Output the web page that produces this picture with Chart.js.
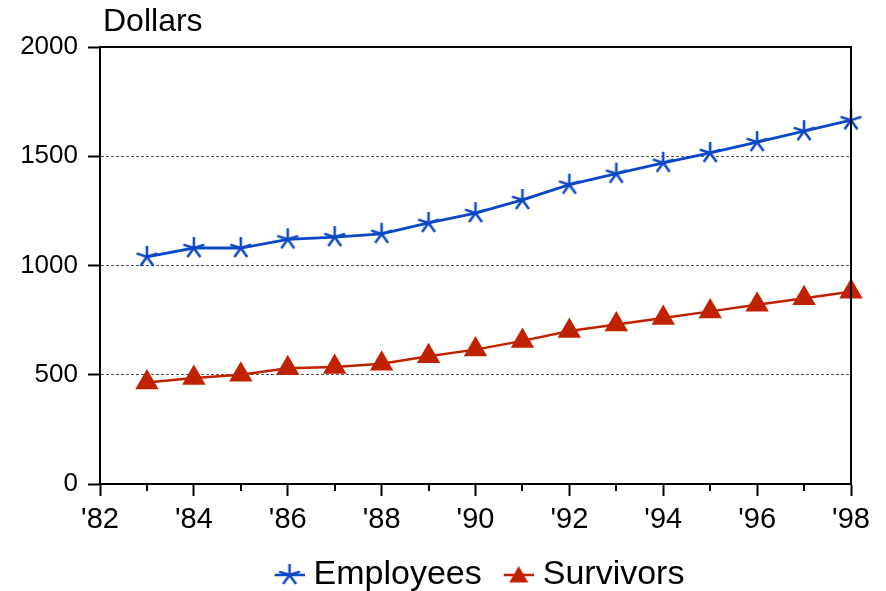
<!DOCTYPE html>
<html>
<head>
<meta charset="utf-8">
<script src="https://cdn.jsdelivr.net/npm/chart.js@4/dist/chart.umd.min.js"></script>
<style>
  html, body { margin: 0; padding: 0; background: #fff; }
  #wrap { width: 886px; height: 591px; }
</style>
</head>
<body>
<div id="wrap"><canvas id="myChart" width="886" height="591"></canvas></div>
<script>
// values
var years = [1983, 1984, 1985, 1986, 1987, 1988, 1989, 1990, 1991, 1992, 1993, 1994, 1995, 1996, 1997, 1998];
var employees = [1040, 1080, 1080, 1120, 1130, 1145, 1195, 1240, 1300, 1370, 1420, 1470, 1515, 1565, 1615, 1665];
var survivors = [465, 485, 500, 530, 535, 550, 585, 615, 655, 700, 730, 760, 790, 820, 850, 880];
var yTicks = [0, 500, 1000, 1500, 2000];

var blue = "#0b48c6";
var red = "#c02200";
var font = "Liberation Sans, Arial, Helvetica, sans-serif";

function drawStar(ctx, cx, cy, r) {
  ctx.strokeStyle = blue;
  ctx.lineWidth = 2.5;
  ctx.beginPath();
  for (var k = 0; k < 5; k++) {
    var a = (90 - 72 * k) * Math.PI / 180;
    ctx.moveTo(cx, cy);
    ctx.lineTo(cx + r * Math.cos(a), cy - r * Math.sin(a));
  }
  ctx.stroke();
}

function drawTri(ctx, cx, cy, r) {
  ctx.fillStyle = red;
  ctx.beginPath();
  ctx.moveTo(cx, cy - r);
  ctx.lineTo(cx + r * 0.866, cy + r * 0.5);
  ctx.lineTo(cx - r * 0.866, cy + r * 0.5);
  ctx.closePath();
  ctx.fill();
}

// point marker for employees
var starImg = document.createElement("canvas");
starImg.width = 26; starImg.height = 26;
drawStar(starImg.getContext("2d"), 13, 13, 11);

// legend symbols: line + marker, drawn in the right part of the image
function legendImg(kind) {
  var c = document.createElement("canvas");
  c.width = 46; c.height = 28;
  var g = c.getContext("2d");
  g.strokeStyle = kind == "star" ? blue : red;
  g.lineWidth = 2.5;
  g.beginPath();
  g.moveTo(16, 14); g.lineTo(46, 14);
  g.stroke();
  if (kind == "star") drawStar(g, 31, 14, 11);
  else drawTri(g, 31, 16, 11);
  return c;
}
var legStar = legendImg("star");
var legTri = legendImg("tri");

var framePlugin = {
  id: "frame",
  afterLayout: function (chart) {
    // centre the legend under the plot area, not the canvas
    var lg = chart.legend, a = chart.chartArea;
    var shift = (a.left + a.right) / 2 - (lg.left + lg.right) / 2;
    lg.left += shift; lg.right += shift;
  },
  afterDraw: function (chart) {
    var ctx = chart.ctx, a = chart.chartArea, xs = chart.scales.x;
    ctx.save();
    ctx.strokeStyle = "#000";
    ctx.lineWidth = 2;
    ctx.beginPath();
    ctx.moveTo(a.left, a.top); ctx.lineTo(a.right, a.top); ctx.lineTo(a.right, a.bottom);
    ctx.stroke();
    // minor ticks on odd years
    ctx.beginPath();
    for (var v = 1983; v < 1998; v += 2) {
      var px = Math.round(xs.getPixelForValue(v));
      ctx.moveTo(px, a.bottom); ctx.lineTo(px, a.bottom + 7);
    }
    ctx.stroke();
    ctx.fillStyle = "#000";
    ctx.font = "32px " + font;
    ctx.textBaseline = "middle";
    ctx.textAlign = "left";
    ctx.fillText("Dollars", a.left + 3, 22);
    ctx.restore();
  }
};

var canvas = document.getElementById("myChart");
var myChart = new Chart(canvas, {
  type: "line",
  data: {
    datasets: [
      {
        label: "Employees",
        data: years.map(function (y, i) { return { x: y, y: employees[i] }; }),
        borderColor: blue,
        backgroundColor: blue,
        borderWidth: 2.8,
        pointStyle: starImg,
        lineTension: 0,
        fill: false
      },
      {
        label: "Survivors",
        data: years.map(function (y, i) { return { x: y, y: survivors[i] }; }),
        borderColor: red,
        backgroundColor: red,
        borderWidth: 2.5,
        pointStyle: "triangle",
        pointRadius: 13.5,
        pointBorderWidth: 0,
        lineTension: 0,
        fill: false
      }
    ]
  },
  options: {
    responsive: false,
    animation: false,
    clip: false,
    layout: { padding: { left: 0, right: 35, top: 47, bottom: -11 } },
    plugins: {
      tooltip: { enabled: false },
      legend: {
        position: "bottom",
        labels: {
          usePointStyle: true,
          pointStyleWidth: 30,
          padding: 14,
          color: "#000",
          font: { family: font, size: 34 },
          generateLabels: function (chart) {
            return chart.data.datasets.map(function (ds, i) {
              return {
                text: ds.label,
                pointStyle: i == 0 ? legStar : legTri,
                fillStyle: ds.borderColor,
                strokeStyle: ds.borderColor,
                lineWidth: 0,
                fontColor: "#000",
                hidden: false,
                datasetIndex: i
              };
            });
          }
        }
      }
    },
    scales: {
      x: {
        type: "linear",
        min: 1982,
        max: 1998,
        afterFit: function (s) { s.height = 60; },
        border: { color: "#000", width: 2 },
        grid: {
          drawOnChartArea: false,
          tickLength: 12,
          tickWidth: 2,
          tickColor: function (c) { return c.tick && c.tick.value % 2 == 0 ? "#000" : "rgba(0,0,0,0)"; }
        },
        ticks: {
          stepSize: 1,
          autoSkip: false,
          maxRotation: 0,
          padding: 7,
          color: "#000",
          font: { family: font, size: 29 },
          callback: function (v) { return v % 2 == 0 ? "'" + String(v).slice(2) : ""; }
        }
      },
      y: {
        min: 0,
        max: 2000,
        afterFit: function (s) { s.width = 100; },
        afterBuildTicks: function (s) { s.ticks = yTicks.map(function (v) { return { value: v }; }); },
        border: { color: "#000", width: 2, dash: [3, 2] },
        grid: {
          color: function (c) { return c.tick && (c.tick.value == 0 || c.tick.value == 2000) ? "rgba(0,0,0,0)" : "#555"; },
          lineWidth: 1,
          tickLength: 12,
          tickWidth: 2,
          tickColor: "#000"
        },
        ticks: {
          padding: 10,
          color: "#000",
          font: { family: font, size: 26 },
          callback: function (v) { return String(v); }
        }
      }
    }
  },
  plugins: [framePlugin]
});
</script>
</body>
</html>
